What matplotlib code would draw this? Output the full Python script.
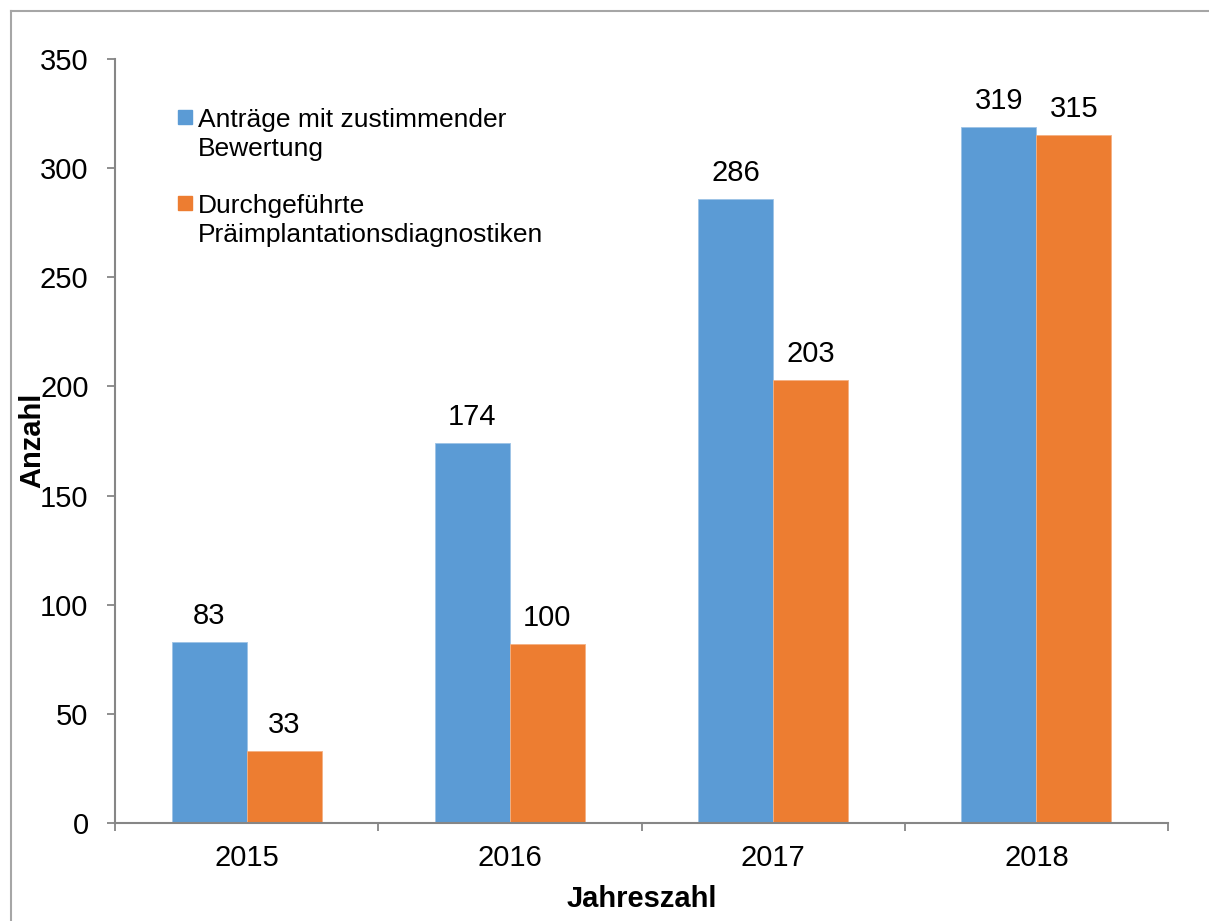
import numpy as np
import matplotlib
matplotlib.use('Agg')
import matplotlib.pyplot as plt
from matplotlib.lines import Line2D
from matplotlib.patches import Rectangle

plt.rcParams['font.family'] = ['Liberation Sans', 'DejaVu Sans']

years = ['2015', '2016', '2017', '2018']
antraege = [83, 174, 286, 319]
durchgefuehrt = [33, 82, 203, 315]          # bar heights as drawn
durchgefuehrt_labels = ['33', '100', '203', '315']  # labels as printed
antraege_labels = [str(v) for v in antraege]
series_names = ['Anträge mit zustimmender\nBewertung',
                'Durchgeführte\nPräimplantationsdiagnostiken']

blue = '#5B9BD5'
orange = '#ED7D31'
grey = '#868686'

fig = plt.figure(figsize=(12.09, 9.21), dpi=100)
ax = fig.add_axes([115 / 1209, 1 - 823 / 921, 1053 / 1209, 764 / 921])

x = np.arange(len(years))
w = 0.285
b1 = ax.bar(x - w / 2, antraege, w, color=blue, edgecolor='#9DC3E6', linewidth=0.6)
b2 = ax.bar(x + w / 2, durchgefuehrt, w, color=orange, edgecolor='#F4B183', linewidth=0.6)

for bars, labels in [(b1, antraege_labels), (b2, durchgefuehrt_labels)]:
    for rect, lab in zip(bars, labels):
        ax.annotate(lab, (rect.get_x() + rect.get_width() / 2, rect.get_height()),
                    xytext=(0, 13), textcoords='offset points',
                    ha='center', va='baseline', fontsize=21)

ax.set_xlim(-0.5, 3.5)
ax.set_ylim(0, 350)
ax.set_yticks(range(0, 351, 50))
ax.set_xticks(x)
ax.set_xticklabels(years)
ax.set_xticks(np.arange(-0.5, 3.6, 1), minor=True)
ax.tick_params(axis='x', which='major', length=0, pad=15, labelsize=21)
ax.tick_params(axis='x', which='minor', length=6, width=1.3, color=grey, direction='out')
ax.tick_params(axis='y', length=6, width=1.3, color=grey, direction='out', pad=13, labelsize=21)

for s in ['top', 'right']:
    ax.spines[s].set_visible(False)
for s in ['left', 'bottom']:
    ax.spines[s].set_color(grey)
    ax.spines[s].set_linewidth(1.5)

ax.set_ylabel('Anzahl', fontsize=21, fontweight='bold')
ax.yaxis.set_label_coords(-0.065, 0.501)
ax.set_xlabel('Jahreszahl', fontsize=21, fontweight='bold')
ax.xaxis.set_label_coords(0.5, -0.081)

# legend drawn by hand so squares line up with first text line
# (text y = baseline of the last line)
leg = [(blue, series_names[0], 0.8734, 0.915), (orange, series_names[1], 0.7609, 0.802)]
for col, name, ytxt, ysq in leg:
    ax.add_patch(Rectangle((0.0598, ysq), 0.0133, 0.0183, transform=ax.transAxes,
                           color=col, clip_on=False))
    ax.text(0.0788, ytxt, name, transform=ax.transAxes, fontsize=19,
            va='baseline', ha='left', linespacing=1.25)

# outer frame
fig.add_artist(Line2D([11 / 1209, 11 / 1209], [0, 1 - 11 / 921], color='#A6A6A6', lw=1.5,
                      transform=fig.transFigure))
fig.add_artist(Line2D([11 / 1209, 1], [1 - 11 / 921, 1 - 11 / 921], color='#A6A6A6', lw=1.5,
                      transform=fig.transFigure))

fig.savefig('out.png', dpi=100)
